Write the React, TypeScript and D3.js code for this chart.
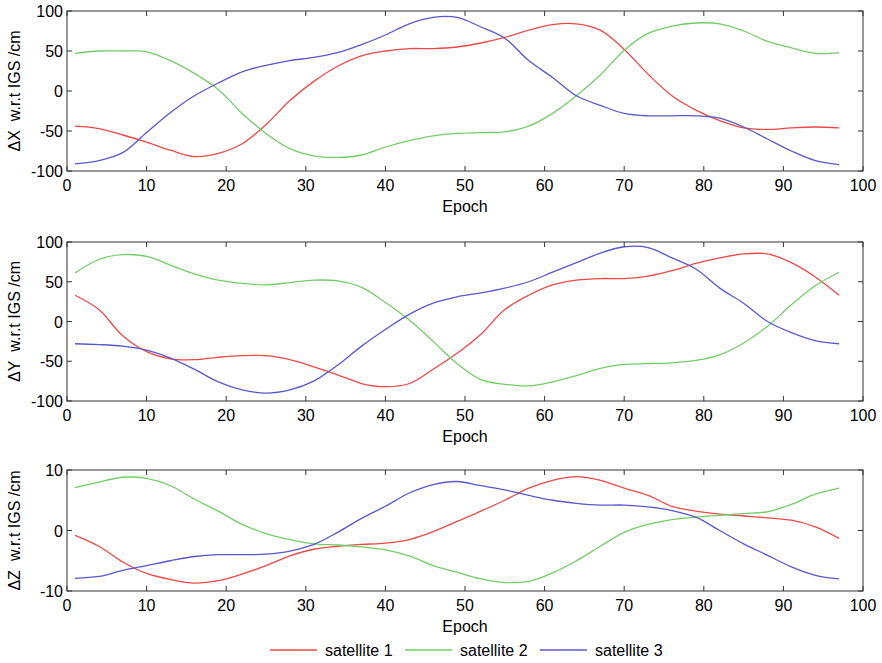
import * as d3 from 'd3';

const epochs = [1, 4, 7, 10, 13, 16, 19, 22, 25, 28, 31, 34, 37, 40, 43, 46, 49, 52, 55, 58, 61, 64, 67, 70, 73, 76, 79, 82, 85, 88, 91, 94, 97];

const dxSat1 = [-44, -47, -55, -64, -74, -82, -78, -66, -42, -12, 12, 31, 44, 50, 53, 53, 55, 60, 67, 76, 83, 84, 76, 52, 21, -6, -24, -37, -46, -48, -46, -45, -46];
const dxSat2 = [47, 50, 50, 49, 38, 22, 2, -28, -53, -72, -81, -83, -80, -70, -62, -56, -53, -52, -51, -44, -28, -6, 20, 51, 72, 81, 85, 84, 75, 62, 54, 47, 48];
const dxSat3 = [-91, -87, -77, -52, -27, -6, 10, 24, 32, 38, 42, 48, 58, 70, 84, 92, 92, 80, 66, 38, 17, -6, -18, -28, -31, -31, -31, -34, -45, -60, -75, -87, -92];

const dySat1 = [33, 15, -18, -38, -47, -48, -45, -43, -43, -48, -57, -67, -78, -82, -78, -60, -40, -16, 15, 33, 46, 52, 54, 54, 57, 64, 73, 80, 85, 85, 74, 56, 33];
const dySat2 = [61, 78, 84, 82, 71, 60, 52, 48, 46, 49, 52, 51, 43, 24, 2, -25, -53, -73, -79, -81, -76, -68, -59, -54, -53, -52, -49, -42, -27, -6, 21, 45, 62];
const dySat3 = [-28, -29, -31, -36, -46, -60, -76, -86, -90, -86, -75, -55, -31, -10, 9, 23, 31, 36, 42, 50, 62, 74, 86, 94, 93, 80, 66, 42, 23, 0, -14, -24, -28];

const dzSat1 = [-0.8, -2.6, -5.2, -7.1, -8.1, -8.7, -8.3, -7.2, -5.8, -4.2, -3.1, -2.6, -2.3, -2.1, -1.5, -0.2, 1.5, 3.2, 5.0, 7.0, 8.3, 8.9, 8.3, 7.0, 5.8, 4.0, 3.2, 2.7, 2.4, 2.1, 1.7, 0.6, -1.3];
const dzSat2 = [7.1, 8.0, 8.8, 8.6, 7.4, 5.2, 3.2, 1.0, -0.5, -1.5, -2.2, -2.4, -2.7, -3.2, -4.2, -5.8, -6.9, -8.0, -8.6, -8.4, -7.0, -5.0, -2.6, -0.3, 1.0, 1.8, 2.2, 2.5, 2.8, 3.1, 4.3, 6.0, 7.0];
const dzSat3 = [-7.9, -7.6, -6.6, -5.8, -5.0, -4.3, -4.0, -4.0, -3.9, -3.4, -2.3, -0.3, 2.0, 4.0, 6.2, 7.6, 8.1, 7.4, 6.7, 5.8, 5.0, 4.5, 4.2, 4.2, 3.9, 3.3, 2.2, 0.0, -2.2, -4.1, -6.0, -7.4, -8.0];

const xTicks = [0, 10, 20, 30, 40, 50, 60, 70, 80, 90, 100];
const seriesNames = ['satellite 1', 'satellite 2', 'satellite 3'];
const colors = ['#ee4848', '#74cc68', '#5858cc'];

const panels = [
  { axis: 'ΔX', top: 11, bottom: 171, domain: [-100, 100], ticks: [-100, -50, 0, 50, 100], series: [dxSat1, dxSat2, dxSat3] },
  { axis: 'ΔY', top: 242, bottom: 401, domain: [-100, 100], ticks: [-100, -50, 0, 50, 100], series: [dySat1, dySat2, dySat3] },
  { axis: 'ΔZ', top: 470, bottom: 591, domain: [-10, 10], ticks: [-10, 0, 10], series: [dzSat1, dzSat2, dzSat3] },
];

const W = 882;
const H = 663;
const left = 67;
const right = 863;
const font = 'Arial, "Liberation Sans", sans-serif';

export default function App() {
  const x = d3.scaleLinear().domain([0, 100]).range([left, right]);

  return (
    <svg width={W} height={H} style={{ position: 'absolute', left: 0, top: 0, background: '#fff' }} fontFamily={font}>
      {panels.map((p, pi) => {
        const y = d3.scaleLinear().domain(p.domain).range([p.bottom, p.top]);
        const line = d3
          .line<number>()
          .x((_, i) => x(epochs[i]))
          .y((d) => y(d))
          .curve(d3.curveCatmullRom.alpha(0.5));
        const mid = (p.top + p.bottom) / 2;
        return (
          <g key={pi}>
            {p.series.map((s, si) => (
              <path key={si} d={line(s) || ''} fill="none" stroke={colors[si]} strokeWidth={1.3} />
            ))}
            <rect x={left} y={p.top} width={right - left} height={p.bottom - p.top} fill="none" stroke="#333" strokeWidth={1} />
            {xTicks.map((t) => (
              <g key={'x' + t}>
                <line x1={x(t)} x2={x(t)} y1={p.bottom} y2={p.bottom - 5} stroke="#333" />
                <line x1={x(t)} x2={x(t)} y1={p.top} y2={p.top + 5} stroke="#333" />
                <text x={x(t)} y={p.bottom + 20} textAnchor="middle" fontSize={16} fill="#000">{t}</text>
              </g>
            ))}
            {p.ticks.map((t) => (
              <g key={'y' + t}>
                <line x1={left} x2={left + 5} y1={y(t)} y2={y(t)} stroke="#333" />
                <line x1={right} x2={right - 5} y1={y(t)} y2={y(t)} stroke="#333" />
                <text x={63} y={y(t) + 6} textAnchor="end" fontSize={16} fill="#000">{t}</text>
              </g>
            ))}
            <text x={x(50)} y={p.bottom + 41} textAnchor="middle" fontSize={16} fill="#000">Epoch</text>
            <text transform={`translate(20,${mid}) rotate(-90)`} textAnchor="middle" fontSize={16} fill="#000">
              <tspan>{p.axis}</tspan>
              <tspan dx={9}>w.r.t IGS /cm</tspan>
            </text>
          </g>
        );
      })}
      {seriesNames.map((n, i) => {
        const lx = 270 + i * 135;
        return (
          <g key={n}>
            <line x1={lx} x2={lx + 47} y1={650} y2={650} stroke={colors[i]} strokeWidth={1.3} />
            <text x={lx + 55} y={656} fontSize={16} fill="#000">{n}</text>
          </g>
        );
      })}
    </svg>
  );
}
